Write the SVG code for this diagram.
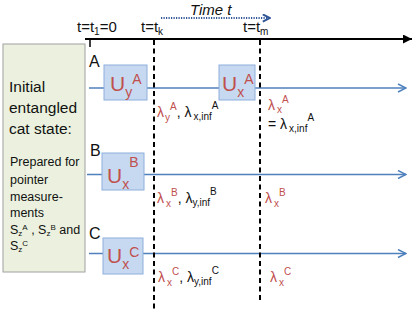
<svg xmlns="http://www.w3.org/2000/svg" width="415" height="312" viewBox="0 0 415 312">
<style>
text{font-family:"Liberation Sans",Arial,sans-serif;fill:#111}
.t{font-size:15px}
.big{font-size:15.5px}
.small{font-size:12.5px}
.lbl{font-size:16px}
.U{font-size:21px;fill:#C0504D}
.Us{font-size:14px;fill:#C0504D}
.lam{font-size:14px}
.r{fill:#C0504D}
.s{font-size:10px}
.ss{font-size:8px}
.gate{fill:#C6D9F1;stroke:#8EAEDB;stroke-width:1}
.wire{stroke:#4F81BD;stroke-width:1.6;fill:none}
.dash{stroke:#000;stroke-width:2;stroke-dasharray:5,3.5;fill:none}
</style>
<defs>
<marker id="blue" viewBox="0 0 10 10" refX="9" refY="5" markerWidth="10" markerHeight="10" markerUnits="userSpaceOnUse" orient="auto">
<path d="M1,1 L9,5 L1,9" fill="none" stroke="#4F81BD" stroke-width="1.5"/>
</marker>
<marker id="dark" viewBox="0 0 10 10" refX="9" refY="5" markerWidth="9" markerHeight="9" markerUnits="userSpaceOnUse" orient="auto">
<path d="M1,1 L9,5 L1,9" fill="none" stroke="#2E5597" stroke-width="2.2"/>
</marker>
<marker id="black" viewBox="0 0 10 10" refX="10" refY="5" markerWidth="9" markerHeight="9" markerUnits="userSpaceOnUse" orient="auto">
<path d="M0,0 L10,5 L0,10 Z" fill="#000"/>
</marker>
</defs>

<!-- time axis & header -->
<g id="timeline">
<text x="190" y="15" class="t" font-style="italic" font-size="16">Time t</text>
<line x1="161" y1="18" x2="270" y2="18" stroke="#2E5597" stroke-width="2.2" stroke-dasharray="1.2,1.3" marker-end="url(#dark)"/>
<line x1="85" y1="39" x2="412" y2="39" stroke="#000" stroke-width="2" marker-end="url(#black)"/>
<line x1="90" y1="39" x2="90" y2="47" stroke="#000" stroke-width="1.5"/>
<text x="77" y="32" class="t">t=t<tspan class="s" dy="3">1</tspan><tspan dy="-3">=0</tspan></text>
<text x="141" y="32" class="t">t=t<tspan class="s" dy="3">k</tspan></text>
<text x="243" y="32" class="t">t=t<tspan class="s" dy="3">m</tspan></text>
</g>

<!-- left state box -->
<g id="state">
<rect x="3" y="44" width="82" height="228" fill="#EBF1DE" stroke="#A0A0A0" stroke-width="1"/>
<text x="9" y="92" class="big">Initial</text>
<text x="9" y="113" class="big">entangled</text>
<text x="9" y="134" class="big">cat state:</text>
<text x="10" y="166" class="small">Prepared for</text>
<text x="10" y="184" class="small">pointer</text>
<text x="10" y="201" class="small">measure-</text>
<text x="10" y="217" class="small">ments</text>
<text x="10" y="234" class="small">S<tspan class="ss" dy="2">z</tspan><tspan class="ss" dy="-6">A</tspan><tspan dy="4"> , S</tspan><tspan class="ss" dy="2">z</tspan><tspan class="ss" dy="-6">B</tspan><tspan dy="4"> and</tspan></text>
<text x="10" y="250" class="small">S<tspan class="ss" dy="2">z</tspan><tspan class="ss" dy="-6">C</tspan></text>
</g>

<!-- connectors -->
<g id="connectors">
<line class="wire" x1="89" y1="88" x2="406" y2="88" marker-end="url(#blue)"/>
<line class="wire" x1="87" y1="174.5" x2="406" y2="174.5" marker-end="url(#blue)"/>
<line class="wire" x1="89" y1="253.5" x2="406" y2="253.5" marker-end="url(#blue)"/>
<line class="dash" x1="154" y1="40" x2="154" y2="312"/>
<line class="dash" x1="260" y1="40" x2="260" y2="300"/>
</g>

<!-- qubit labels -->
<g id="labelA"><text x="89" y="67" class="lbl">A</text></g>
<g id="labelB"><text x="90" y="156" class="lbl">B</text></g>
<g id="labelC"><text x="89" y="239" class="lbl">C</text></g>

<!-- gates -->
<g id="gateUyA">
<rect class="gate" x="104" y="65" width="43" height="35"/>
<text x="110" y="91" class="U">U<tspan class="Us" dy="6">y</tspan><tspan class="Us" dy="-13">A</tspan></text>
</g>
<g id="gateUxA">
<rect class="gate" x="219" y="65" width="36" height="35"/>
<text x="222" y="91" class="U">U<tspan class="Us" dy="6">x</tspan><tspan class="Us" dy="-13">A</tspan></text>
</g>
<g id="gateUxB">
<rect class="gate" x="102" y="153" width="42" height="37"/>
<text x="107" y="183" class="U">U<tspan class="Us" dy="6">x</tspan><tspan class="Us" dy="-22">B</tspan></text>
</g>
<g id="gateUxC">
<rect class="gate" x="103" y="238" width="40" height="36"/>
<text x="107" y="263" class="U">U<tspan class="Us" dy="6">x</tspan><tspan class="Us" dy="-12">C</tspan></text>
</g>

<!-- lambda annotations -->
<g id="lamA1">
<text x="157" y="117" class="lam"><tspan class="r">λ</tspan><tspan class="r s" dx="1" dy="4">y</tspan><tspan class="r s" dy="-11">A</tspan><tspan dy="7">, λ</tspan><tspan class="s" dx="2" dy="3">x,inf</tspan><tspan class="s" dy="-11">A</tspan></text>
</g>
<g id="lamA2">
<text x="268" y="110" class="lam"><tspan class="r">λ</tspan><tspan class="r s" dx="2" dy="3">x</tspan><tspan class="r s" dy="-10">A</tspan></text>
<text x="268" y="129" class="lam">= λ<tspan class="s" dx="2" dy="3">x,inf</tspan><tspan class="s" dy="-11">A</tspan></text>
</g>
<g id="lamB1">
<text x="157" y="203" class="lam"><tspan class="r">λ</tspan><tspan class="r s" dx="2" dy="4">x</tspan><tspan class="r s" dy="-11">B</tspan><tspan dy="7">, λ</tspan><tspan class="s" dy="3">y,inf</tspan><tspan class="s" dy="-11">B</tspan></text>
</g>
<g id="lamB2">
<text x="265" y="203" class="lam"><tspan class="r">λ</tspan><tspan class="r s" dx="2" dy="4">x</tspan><tspan class="r s" dy="-11">B</tspan></text>
</g>
<g id="lamC1">
<text x="158" y="282" class="lam"><tspan class="r">λ</tspan><tspan class="r s" dx="2" dy="4">x</tspan><tspan class="r s" dy="-11">C</tspan><tspan dy="7">, λ</tspan><tspan class="s" dy="3">y,inf</tspan><tspan class="s" dy="-11">C</tspan></text>
</g>
<g id="lamC2">
<text x="270" y="282" class="lam"><tspan class="r">λ</tspan><tspan class="r s" dx="2" dy="4">x</tspan><tspan class="r s" dy="-11">C</tspan></text>
</g>
</svg>
